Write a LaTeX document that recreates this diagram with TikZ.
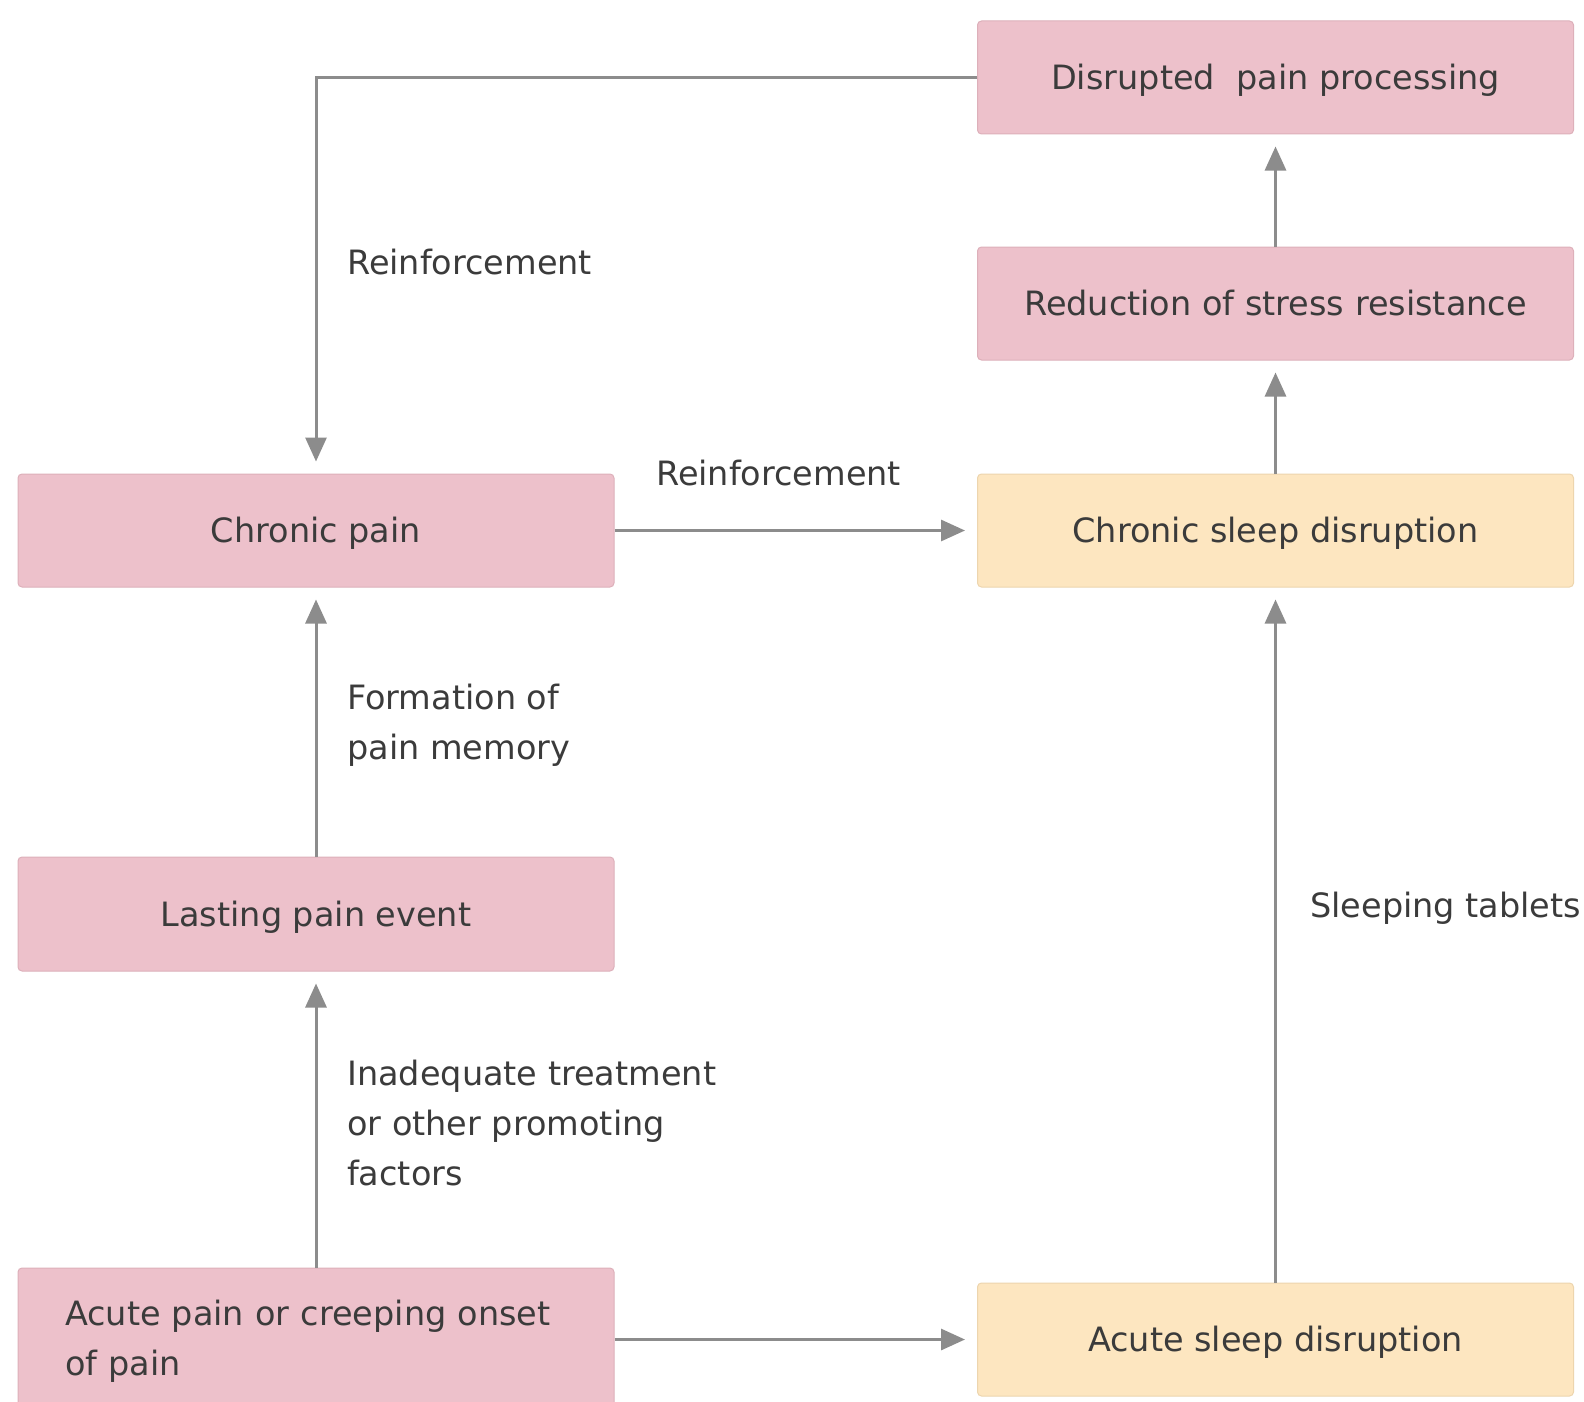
\documentclass[tikz,border=0pt]{standalone}
\usepackage{fontspec}
\setmainfont{DejaVu Sans}
\usetikzlibrary{arrows.meta}
\definecolor{pinkbox}{HTML}{EDC1CB}
\definecolor{pinkedge}{HTML}{DDB0BA}
\definecolor{yellowbox}{HTML}{FDE6C0}
\definecolor{yellowedge}{HTML}{EDD5AE}
\definecolor{linegray}{HTML}{8C8C8C}
\definecolor{txt}{HTML}{3B3B3B}
\tikzset{
  box/.style={draw=pinkedge, fill=pinkbox, line width=1pt, rounded corners=4pt,
    minimum width=596pt, minimum height=113pt, text=txt, inner sep=0pt,
    text height=28pt, text depth=4pt,
    font=\fontsize{33.5}{50}\selectfont},
  ybox/.style={box, draw=yellowedge, fill=yellowbox},
  conn/.style={draw=linegray, line width=3pt,
    -{Triangle[length=24pt,width=21pt]}, shorten >=12pt},
  lbl/.style={text=txt, inner sep=0pt, anchor=base west, align=left,
    font=\fontsize{33.5}{50}\selectfont}
}
\begin{document}
\begin{tikzpicture}[x=1pt,y=-1pt]
\clip (0,0) rectangle (1584,1402);
\fill[white] (0,0) rectangle (1584,1402);
% right column
\node[box] (disrupted) at (1275.5,77.5) {Disrupted\ \ pain processing};
\node[box] (reduction) at (1275.5,303.5) {Reduction of stress resistance};
\node[ybox] (chronicsleep) at (1275.5,530.5) {Chronic sleep disruption};
\node[ybox] (acutesleep) at (1275.5,1339.5) {Acute sleep disruption};
% left column
\node[box] (chronicpain) at (316,530.5) {Chronic pain};
\node[box, minimum height=114pt] (lasting) at (316,914) {Lasting pain event};
\node[box, minimum height=146pt, text width=502pt, align=left,
  text height=, text depth=] (acutepain) at (316,1341)
  {Acute pain or creeping onset\\of pain};
% connectors
\draw[conn] (disrupted.west) -| (chronicpain.north);
\draw[conn] (chronicpain.east) -- (chronicsleep.west);
\draw[conn] (lasting.north) -- (chronicpain.south);
\draw[conn] (acutepain.north) -- (lasting.south);
\draw[conn] (acutepain.east |- acutesleep.west) -- (acutesleep.west);
\draw[conn] (acutesleep.north) -- (chronicsleep.south);
\draw[conn] (chronicsleep.north) -- (reduction.south);
\draw[conn] (reduction.north) -- (disrupted.south);
% labels
\node[lbl] (l1) at (347,274) {Reinforcement};
\node[lbl] (l2) at (656,485) {Reinforcement};
\node[lbl] (l3) at (347,759) {Formation of\\pain memory};
\node[lbl] (l4) at (347,1185) {Inadequate treatment\\or other promoting\\factors};
\node[lbl] (l5) at (1310,917) {Sleeping tablets};
\end{tikzpicture}
\end{document}
